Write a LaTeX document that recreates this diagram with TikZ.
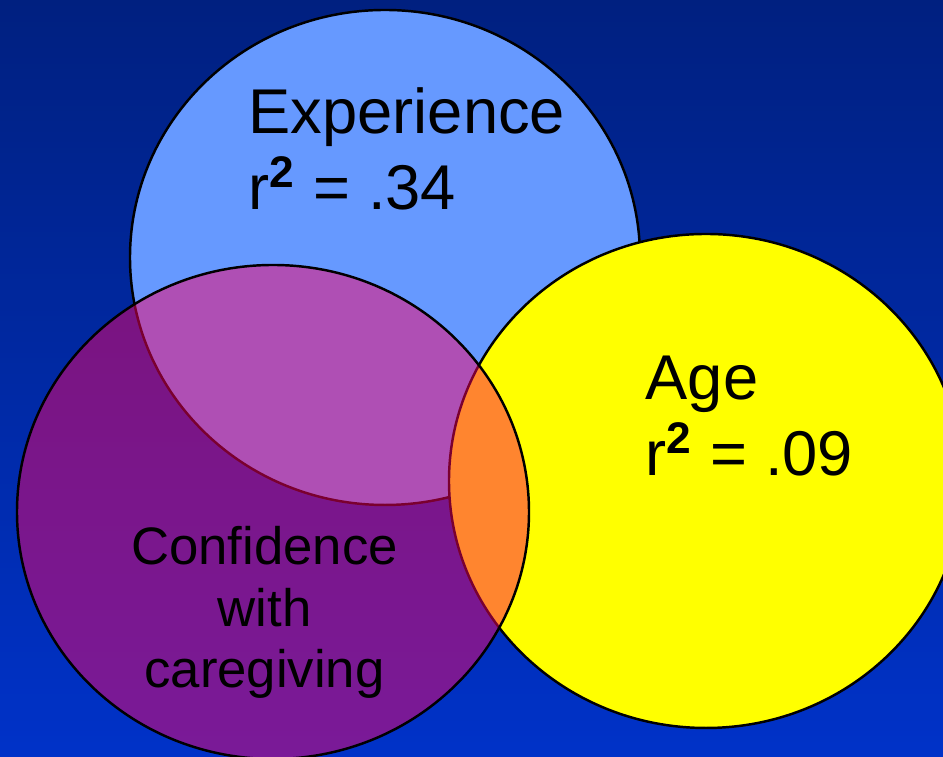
\documentclass[tikz,border=0pt]{standalone}
\usepackage{fontspec}
\setmainfont{Liberation Sans}
\usetikzlibrary{positioning}
\definecolor{bgtop}{RGB}{0,32,128}
\definecolor{bgbottom}{RGB}{0,50,200}
\definecolor{expblue}{RGB}{102,153,255}
\definecolor{ageyellow}{RGB}{255,255,0}
\definecolor{confpink}{RGB}{255,0,100}
\newcommand{\rsq}{r\textsuperscript{\bfseries 2}}
\tikzset{
	setline/.style={draw=black, line width=0.7pt},
	biglabel/.style={inner sep=0pt, align=left, font=\fontsize{18}{21.6}\selectfont},
	smalllabel/.style={inner sep=0pt, align=center, font=\fontsize{15}{17.5}\selectfont}
}

\begin{document}
\begin{tikzpicture}
		%%%%% START %%%%%
		
		\shade[top color=bgtop, bottom color=bgbottom] (0, 0) rectangle (9.43, 7.57);
		\useasboundingbox (0, 0) rectangle (9.43, 7.57);
		
		\begin{scope}
			\clip (0, 0) rectangle (9.43, 7.57);
			
			\draw[setline, fill=expblue] (3.85, 4.995) ellipse [x radius=2.55, y radius=2.475];
			\draw[setline, fill=ageyellow] (7.06, 2.76) ellipse [x radius=2.57, y radius=2.47];
			
			\fill[confpink, fill opacity=0.48] (2.73, 2.45) ellipse [x radius=2.56, y radius=2.47];
			\draw[setline] (2.73, 2.45) ellipse [x radius=2.56, y radius=2.47];
		\end{scope}
		
		\node[biglabel, anchor=north west] (explbl) at (2.48, 6.70) {Experience\\\rsq{} = .34};
		\node[biglabel, anchor=north west] (agelbl) at (6.45, 4.02) {Age\\\rsq{} = .09};
		\node[smalllabel, anchor=north] (conflbl) at (2.645, 2.31) {Confidence\\with\\caregiving};
		
		%%%%% END %%%%%
	\end{tikzpicture}
\end{document}
